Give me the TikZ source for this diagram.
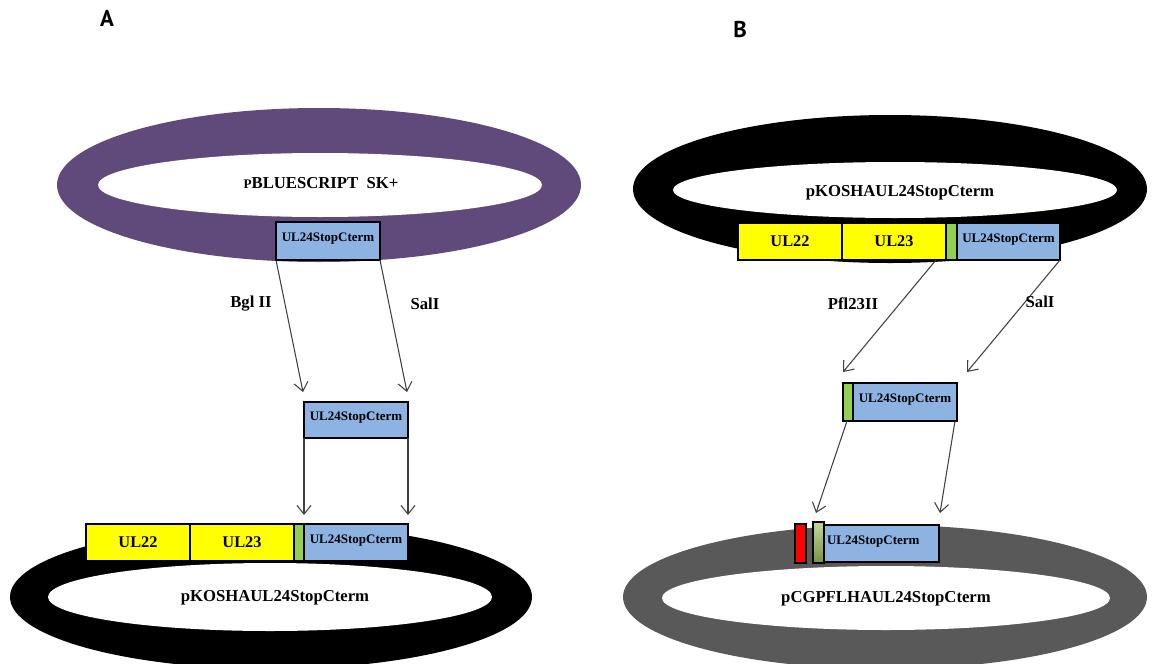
\documentclass[tikz,border=0pt]{standalone}
\usepackage{fontspec}
\setmainfont{Liberation Serif}
\newfontfamily\panelfont{PT Sans}
\usetikzlibrary{arrows.meta,calc}

\definecolor{plum}{HTML}{604A7B}
\definecolor{ringgray}{HTML}{595959}
\definecolor{ulyellow}{HTML}{FFFF00}
\definecolor{ulblue}{HTML}{8DB3E2}
\definecolor{ulgreen}{HTML}{92D050}
\definecolor{olivedark}{HTML}{77933C}
\definecolor{olivelight}{HTML}{C3D69B}
\definecolor{arrowgray}{HTML}{404040}

\newcommand{\pxl}{0.02cm}
\newcommand{\drawRing}[5]{% centre: x,y; radii: rx,ry; colour
  \fill[#5] (#1,#2) ellipse ({#3*\pxl} and {#4*\pxl});
}
\newcommand{\drawHole}[4]{% centre: x,y; radii: rx,ry
  \fill[white] (#1,#2) ellipse ({#3*\pxl} and {#4*\pxl});
}

\tikzset{
  gene/.style={draw, line width=1.4pt, outer sep=0pt, inner sep=0pt,
    minimum height=37*\pxl, font=\fontsize{9.3}{11}\selectfont\bfseries},
  ulbox/.style={gene, fill=ulyellow, minimum width=104*\pxl},
  stopbox/.style={gene, fill=ulblue, minimum width=103*\pxl,
    font=\fontsize{7.4}{9}\selectfont\bfseries, text height=5.5pt, text depth=4.5pt},
  linker/.style={gene, fill=ulgreen, minimum width=10*\pxl},
  cut/.style={draw=arrowgray, line width=0.6pt,
    -{Straight Barb[length=5pt,width=8pt,line width=0.6pt]}},
  enzyme/.style={font=\fontsize{9.5}{11}\selectfont\bfseries},
  plasname/.style={font=\fontsize{9.5}{11}\selectfont\bfseries},
  panel/.style={font=\panelfont\fontsize{13}{15}\selectfont\bfseries}
}

\begin{document}
\begin{tikzpicture}[x=\pxl,y=-\pxl]
\useasboundingbox (0,0) rectangle (1153,663);

% Panel labels
\node[panel] (labA) at (107,18) {A};
\node[panel] (labB) at (740,30) {B};

% A: pBluescript with insert
\drawRing{319}{185}{262}{77}{plum}
\drawHole{320}{185}{222}{32}
\node[plasname] (bluescript) at (321,183) {{\fontsize{7.5}{9}\selectfont P}BLUESCRIPT\ \ SK+};
\node[stopbox, minimum width=104*\pxl, minimum height=38*\pxl] (stopAtop) at (328,241) {UL24StopCterm};

% A: cut fragment
\node[stopbox, minimum width=104*\pxl, minimum height=36*\pxl] (stopAmid) at (356,420) {UL24StopCterm};
\draw[cut] (stopAtop.south west) -- ($(stopAmid.north west)+(-1,-10)$);
\draw[cut] (stopAtop.south east) -- ($(stopAmid.north east)+(-1,-10)$);
\node[enzyme] (bglA) at (251,304) {Bgl II};
\node[enzyme] (salA) at (425,304) {SalI};

% A: product
\drawRing{271}{597}{261}{72}{black}
\drawHole{270}{597}{222}{34}
\node[plasname] (koshA) at (275,598) {pKOSHAUL24StopCterm};
\node[ulbox, anchor=north west] (ul22A) at (86,524) {UL22};
\node[ulbox, anchor=west] (ul23A) at (ul22A.east) {UL23};
\node[linker, anchor=west] (linkA) at (ul23A.east) {};
\node[stopbox, minimum width=104*\pxl, anchor=west] (stopAbar) at (linkA.east) {UL24StopCterm};
\draw[cut] (stopAmid.south west) -- ($(stopAbar.north west)+(0,-9)$);
\draw[cut] (stopAmid.south east) -- ($(stopAbar.north east)+(0,-9)$);

% B: pKOSHA source
\drawRing{890}{189}{257}{74}{black}
\drawHole{895}{190}{222}{28}
\node[plasname] (koshB) at (900,193) {pKOSHAUL24StopCterm};
\node[ulbox, anchor=north west] (ul22B) at (738,223) {UL22};
\node[ulbox, anchor=west] (ul23B) at (ul22B.east) {UL23};
\node[linker, anchor=west, minimum width=11*\pxl] (linkB) at (ul23B.east) {};
\node[stopbox, anchor=west] (stopBbar) at (linkB.east) {UL24StopCterm};

% B: cut fragment
\node[linker, minimum height=38*\pxl, anchor=north west] (linkBmid) at (843,383) {};
\node[stopbox, minimum width=104*\pxl, minimum height=38*\pxl, anchor=west] (stopBmid) at (linkBmid.east) {UL24StopCterm};
\draw[cut] ($(ul23B.south east)+(-10,0)$) -- ($(linkBmid.north west)+(0,-11)$);
\draw[cut] (stopBbar.south east) -- ($(stopBmid.north east)+(10,-11)$);
\node[enzyme] (pfl) at (853,304) {Pfl23II};
\node[enzyme] (salB) at (1040,302) {SalI};

% B: product
\drawRing{885}{597}{262}{72}{ringgray}
\drawHole{886}{598}{224}{32}
\node[plasname] (cgp) at (886,599) {pCGPFLHAUL24StopCterm};
\node[gene, fill=red, minimum width=11*\pxl, minimum height=39*\pxl, anchor=north west] (redB) at (795,524) {};
\node[gene, top color=olivelight, bottom color=olivedark, minimum width=11*\pxl, minimum height=41*\pxl, anchor=north west] (oliveB) at (813,522) {};
\node[stopbox, minimum width=115*\pxl, text width=2.18cm, align=left, anchor=north west] (stopBbar2) at (824,525) {UL24StopCterm};
\draw[cut] ($(linkBmid.south west)+(4,0)$) -- ($(oliveB.north west)+(3,-9)$);
\draw[cut] ($(stopBmid.south east)+(-2,0)$) -- ($(stopBbar2.north east)+(1,-12)$);
\end{tikzpicture}
\end{document}
